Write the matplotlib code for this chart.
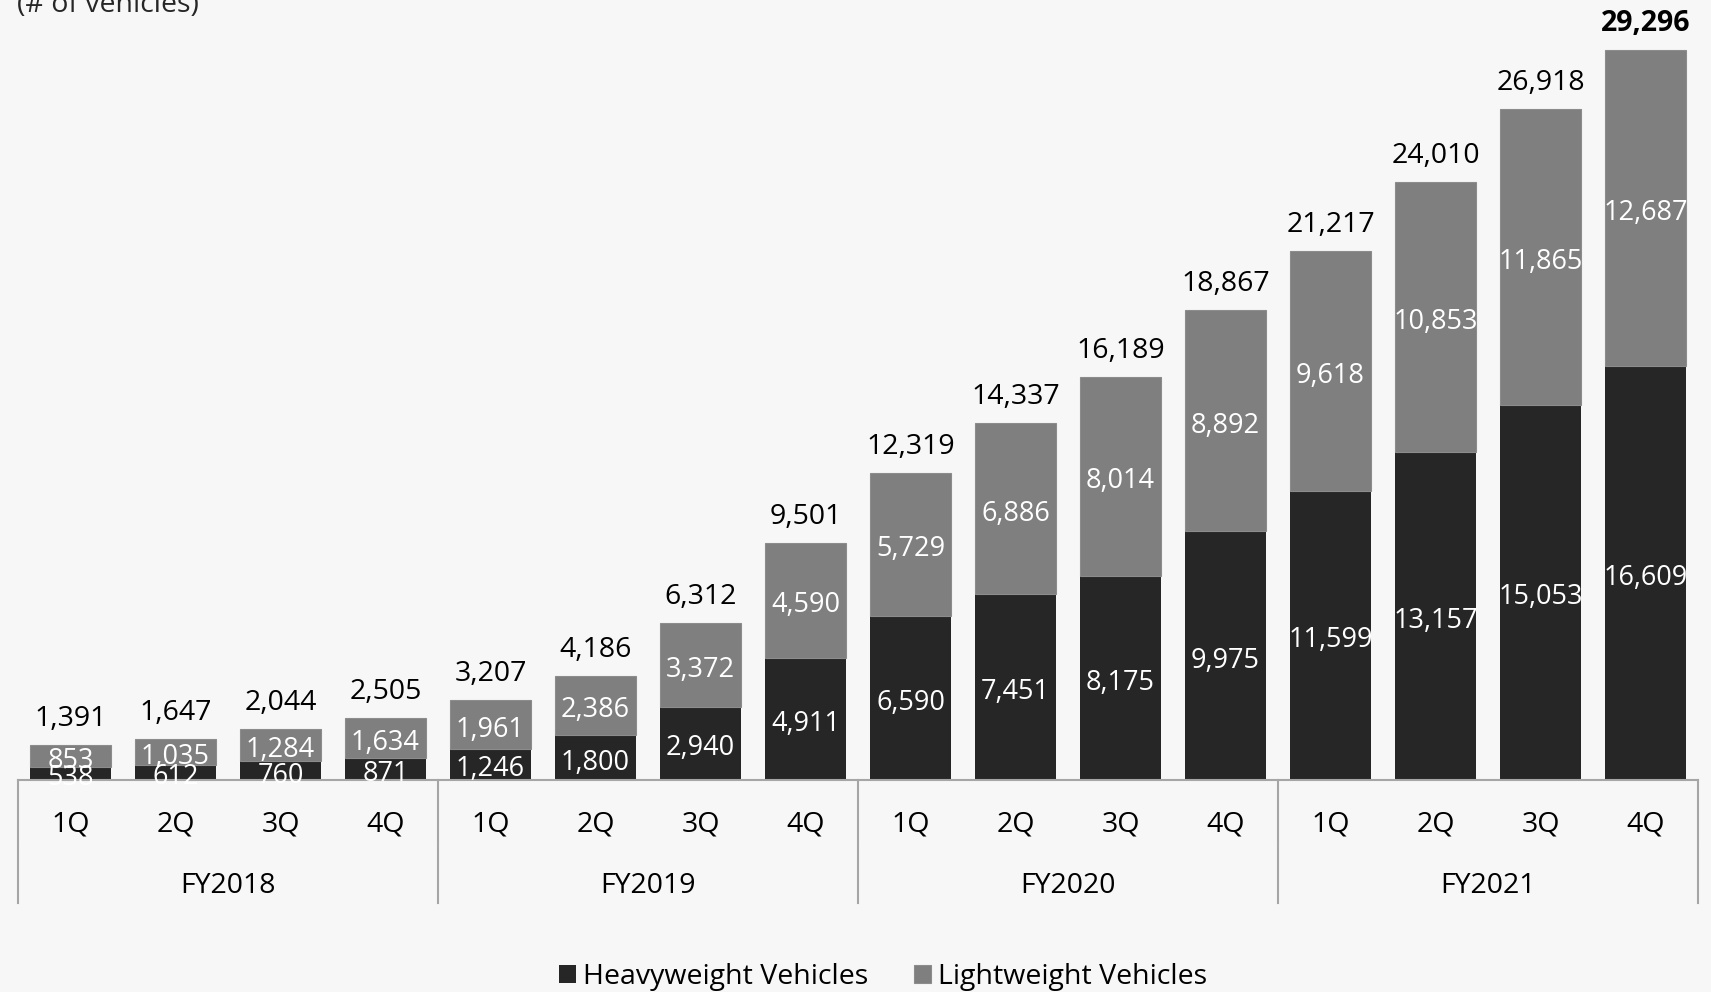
import matplotlib.pyplot as plt
from matplotlib.transforms import blended_transform_factory

plt.rcParams['font.family'] = ['Open Sans', 'DejaVu Sans']

quarters = ['1Q', '2Q', '3Q', '4Q'] * 4
years = ['FY2018', 'FY2019', 'FY2020', 'FY2021']
heavy = [538, 612, 760, 871, 1246, 1800, 2940, 4911,
         6590, 7451, 8175, 9975, 11599, 13157, 15053, 16609]
light = [853, 1035, 1284, 1634, 1961, 2386, 3372, 4590,
         5729, 6886, 8014, 8892, 9618, 10853, 11865, 12687]
totals = [h + l for h, l in zip(heavy, light)]

W, H = 1711, 992
bg = '#f7f7f7'
dark = '#262626'
grey = '#7f7f7f'
line_c = '#a6a6a6'
fs = 20.5
fs_in = 19.5

fig = plt.figure(figsize=(W / 100, H / 100), dpi=100, facecolor=bg)
ax_bottom, ax_top = 780, 20
ax = fig.add_axes([18 / W, 1 - ax_bottom / H, 1680 / W, (ax_bottom - ax_top) / H])
ax.set_facecolor(bg)

x = list(range(len(heavy)))
bw = 0.78
b1 = ax.bar(x, heavy, bw, color=dark, label='Heavyweight Vehicles', zorder=2)
b2 = ax.bar(x, light, bw, bottom=heavy, color=grey, edgecolor='#8c8c8c',
            linewidth=0.8, label='Lightweight Vehicles', zorder=2)

ax.set_xlim(-0.5, len(x) - 0.5)
ax.set_ylim(0, 30500)
for s in ['top', 'right', 'left']:
    ax.spines[s].set_visible(False)
ax.spines['bottom'].set_color(line_c)
ax.spines['bottom'].set_linewidth(1.5)
ax.set_yticks([])
ax.set_xticks([])

# value labels inside and above the stacks
for i in x:
    ax.annotate(f'{heavy[i]:,}', (i, heavy[i] / 2), xytext=(0, -5),
                textcoords='offset pixels', ha='center', va='center',
                color='white', fontsize=fs_in, zorder=3)
    ax.annotate(f'{light[i]:,}', (i, heavy[i] + light[i] / 2), xytext=(0, -5),
                textcoords='offset pixels', ha='center', va='center',
                color='white', fontsize=fs_in, zorder=3)
    ax.annotate(f'{totals[i]:,}', (i, totals[i]), xytext=(0, 12),
                textcoords='offset pixels', ha='center', va='bottom',
                fontsize=fs, color='black',
                fontweight='bold' if i == len(x) - 1 else 'normal')

# two-level category axis: quarters, then fiscal years with separators
axh = ax_bottom - ax_top
tr = blended_transform_factory(ax.transData, ax.transAxes)
for i, q in zip(x, quarters):
    ax.text(i, -44 / axh, q, transform=tr, ha='center', va='center',
            fontsize=fs, color='black')
for k, yr in enumerate(years):
    ax.text(4 * k + 1.5, -106 / axh, yr, transform=tr, ha='center',
            va='center', fontsize=fs, color='black')
for sx in [-0.5, 3.5, 7.5, 11.5, 15.5]:
    ax.plot([sx, sx], [0, -61 / axh], transform=tr, color=line_c, lw=1.5,
            clip_on=False)
    ax.plot([sx, sx], [-63 / axh, -123 / axh], transform=tr, color=line_c,
            lw=1.5, clip_on=False)

fig.text(17 / W, 1 - 12 / H, '(# of vehicles)', fontsize=fs, ha='left',
         va='baseline', color='#262626')

fig.legend(handles=[b1, b2], loc='center', bbox_to_anchor=(883 / W, 1 - 977 / H),
           ncol=2, frameon=False, fontsize=fs, handlelength=0.6,
           handleheight=0.6, handletextpad=0.25, columnspacing=1.6)

fig.savefig('out.png', dpi=100, facecolor=bg)
